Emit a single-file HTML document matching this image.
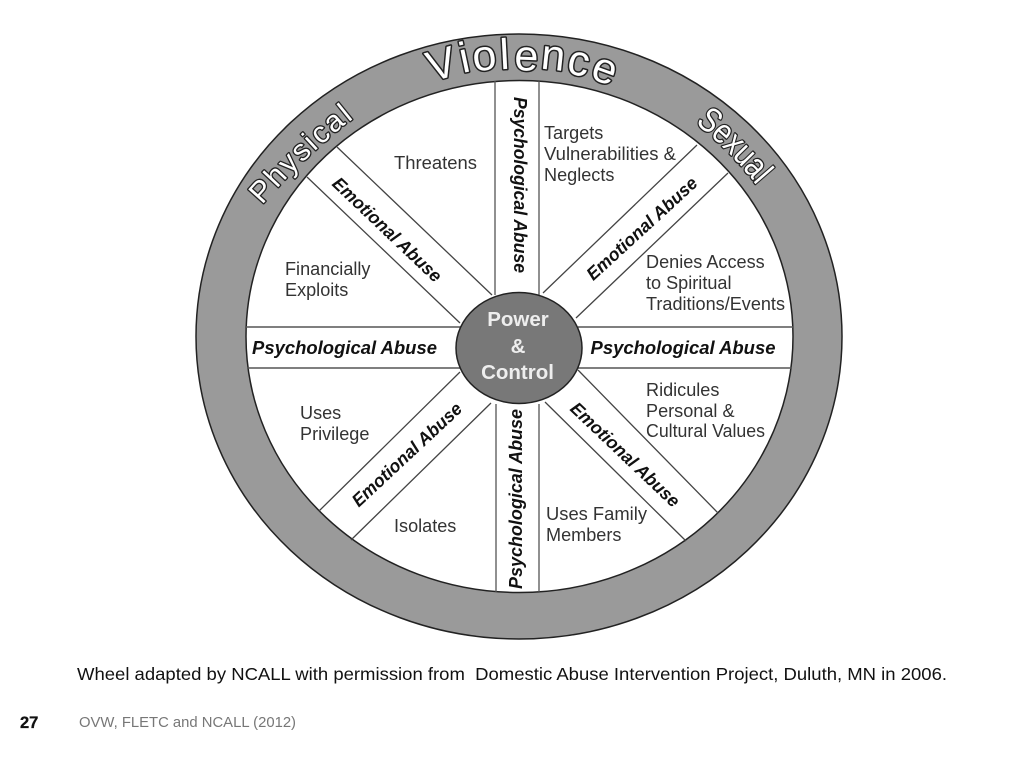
<!DOCTYPE html>
<html>
<head>
<meta charset="utf-8">
<style>
html,body{margin:0;padding:0;background:#fff;width:1024px;height:768px;overflow:hidden}
svg{display:block;filter:blur(.35px)}
text{font-family:"Liberation Sans",sans-serif}
.l{font-size:18.1px;fill:#333}
.b{font-size:18px;font-weight:bold;font-style:italic;fill:#111;text-anchor:middle}
.ring{font-weight:normal;fill:#fff;stroke:#222;stroke-width:3;paint-order:stroke;stroke-linejoin:round}
.hub{font-size:20.5px;font-weight:bold;fill:#eee;text-anchor:middle}
</style>
</head>
<body>
<svg width="1024" height="768" viewBox="0 0 1024 768" xmlns="http://www.w3.org/2000/svg">
<rect width="1024" height="768" fill="#fff"/>
<ellipse cx="519" cy="336.5" rx="323" ry="302.5" fill="#9a9a9a" stroke="#222" stroke-width="1.5"/>
<ellipse cx="519.5" cy="336.5" rx="273.5" ry="256" fill="#fff" stroke="#222" stroke-width="1.5"/>
<g stroke="#444" stroke-width="1.3" fill="none">
<path d="M307 177 L460 323 M337 147 L492 295"/>
<path d="M697 145 L543 293 M728 173 L576 318"/>
<path d="M578 370 L718 513 M545 402 L686 541"/>
<path d="M460 372 L319 511 M491 403 L351 540"/>
<path d="M495 81 V295 M539 81 V295 M496 404 V592 M539 404 V592" stroke="#555"/>
<path d="M246 327 H462 M247 368 H462 M578 327 H793 M578 368 H792" stroke="#555" stroke-width="1.6"/>
</g>
<ellipse cx="519" cy="348" rx="63" ry="55.5" fill="#787878" stroke="#222" stroke-width="1.5"/>
<text class="hub" x="518" y="326">Power</text>
<text class="hub" x="518" y="353">&amp;</text>
<text class="hub" x="517.500" y="379">Control</text>

<text class="ring" font-size="43" x="431.500 462.500 474 500.500 514 540 565.500 589" y="82 73 71.500 69.300 70 68.500 72.800 78" rotate="-16 -12 -7 -3 2 6 12 20">Violence</text>
<text class="ring" font-size="30" style="stroke-width:2.6" x="262 276.900 289.900 302 314.300 321 333.700 348.600" y="205 188.600 175 163 151.500 145.600 134.400 122.400" rotate="-48 -47 -46 -44 -43 -42 -41 -39">Physical</text>
<text class="ring" font-size="35" style="stroke-width:2.6" transform="translate(695,123) rotate(45) scale(.82,1)" x="0 23.300 42.800 60.300 79.800 99.300" y="0 -1.800 -2.450 -2.400 -1.600 0" rotate="-5 -3 -1 1 3 5">Sexual</text>

<text class="b" x="344.500" y="354" textLength="185" lengthAdjust="spacingAndGlyphs">Psychological Abuse</text>
<text class="b" x="683" y="354" textLength="185" lengthAdjust="spacingAndGlyphs">Psychological Abuse</text>
<text class="b" transform="translate(514,185) rotate(90)" textLength="176" lengthAdjust="spacingAndGlyphs">Psychological Abuse</text>
<text class="b" transform="translate(522,499) rotate(-90)" textLength="180" lengthAdjust="spacingAndGlyphs">Psychological Abuse</text>
<text class="b" transform="translate(383,234) rotate(43.500)" textLength="143" lengthAdjust="spacingAndGlyphs">Emotional Abuse</text>
<text class="b" transform="translate(646,233) rotate(-42.500)" textLength="143" lengthAdjust="spacingAndGlyphs">Emotional Abuse</text>
<text class="b" transform="translate(621,459) rotate(43.500)" textLength="143" lengthAdjust="spacingAndGlyphs">Emotional Abuse</text>
<text class="b" transform="translate(411,459) rotate(-43)" textLength="143" lengthAdjust="spacingAndGlyphs">Emotional Abuse</text>

<text class="l" x="394" y="169" textLength="83" lengthAdjust="spacingAndGlyphs">Threatens</text>
<text class="l" x="285" y="275">Financially</text>
<text class="l" x="285" y="296">Exploits</text>
<text class="l" x="544" y="139">Targets</text>
<text class="l" x="544" y="160" textLength="132" lengthAdjust="spacingAndGlyphs">Vulnerabilities &amp;</text>
<text class="l" x="544" y="181">Neglects</text>
<text class="l" x="646" y="268">Denies Access</text>
<text class="l" x="646" y="289">to Spiritual</text>
<text class="l" x="646" y="310" textLength="139" lengthAdjust="spacingAndGlyphs">Traditions/Events</text>
<text class="l" x="646" y="396">Ridicules</text>
<text class="l" x="646" y="417">Personal &amp;</text>
<text class="l" x="646" y="437" textLength="119" lengthAdjust="spacingAndGlyphs">Cultural Values</text>
<text class="l" x="300" y="419">Uses</text>
<text class="l" x="300" y="440">Privilege</text>
<text class="l" x="394" y="532">Isolates</text>
<text class="l" x="546" y="520" textLength="101" lengthAdjust="spacingAndGlyphs">Uses Family</text>
<text class="l" x="546" y="541">Members</text>

<text x="77" y="680" font-size="17.500" fill="#111" textLength="870" lengthAdjust="spacingAndGlyphs" xml:space="preserve">Wheel adapted by NCALL with permission from  Domestic Abuse Intervention Project, Duluth, MN in 2006.</text>
<text x="20" y="728" font-size="16.500" font-weight="bold" fill="#111" stroke="#111" stroke-width=".3">27</text>
<text x="79" y="727" font-size="15" fill="#777" textLength="217" lengthAdjust="spacingAndGlyphs">OVW, FLETC and NCALL (2012)</text>
</svg>
</body>
</html>
